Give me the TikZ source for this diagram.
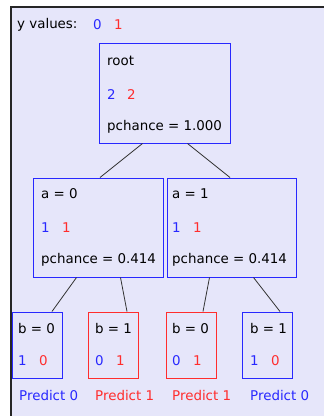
\documentclass[tikz,border=0pt]{standalone}
\usepackage{fontspec}
\setmainfont{DejaVu Sans}
\definecolor{panel}{RGB}{230,230,250}
\definecolor{yblue}{RGB}{40,40,255}
\definecolor{yred}{RGB}{255,45,45}
\begin{document}
\begin{tikzpicture}[x=1pt, y=-1pt,
  font=\fontsize{13.4}{15}\selectfont,
  box/.style={shape=rectangle, draw, line width=1pt, inner sep=0pt},
  txt/.style={anchor=west, inner sep=0pt},
  link/.style={draw=black!80, line width=0.8pt}]
\useasboundingbox (0,0) rectangle (324,416);
\fill[panel] (11,7) rectangle (324,416);
\draw[black!85, line width=1.5pt] (11,416) |- (324,7);
\node[txt] (yv) at (17,25) {y values:};
\node[txt, text=yblue] (y0) at (93,25) {0};
\node[txt, text=yred] (y1) at (114,25) {1};
% root
\node[box, draw=yblue, minimum width=131pt, minimum height=100pt] (R) at (164.5,93) {};
\node[txt] (Rt) at (107,61) {root};
\node[txt, text=yblue] (Rb) at (107,95) {2};
\node[txt, text=yred] (Rr) at (127,95) {2};
\node[txt] (Rp) at (107,127) {pchance = 1.000};
% a = 0 / a = 1
\node[box, draw=yblue, minimum width=130pt, minimum height=99pt] (A0) at (98,227.5) {};
\node[txt] (A0t) at (41,194) {a = 0};
\node[txt, text=yblue] (A0b) at (41,228) {1};
\node[txt, text=yred] (A0r) at (62,228) {1};
\node[txt] (A0p) at (41,260) {pchance = 0.414};
\node[box, draw=yblue, minimum width=129pt, minimum height=99pt] (A1) at (231.5,227.5) {};
\node[txt] (A1t) at (172,194) {a = 1};
\node[txt, text=yblue] (A1b) at (172,228) {1};
\node[txt, text=yred] (A1r) at (193,228) {1};
\node[txt] (A1p) at (172,260) {pchance = 0.414};
% leaves
\node[box, draw=yblue, minimum width=50pt, minimum height=66pt] (B1) at (37,345) {};
\node[txt] (B1t) at (18,328) {b = 0};
\node[txt, text=yblue] (B1b) at (18,361) {1};
\node[txt, text=yred] (B1r) at (39,361) {0};
\node[txt, text=yblue] (B1p) at (19,395) {Predict 0};
\node[box, draw=yred, minimum width=50pt, minimum height=66pt] (B2) at (113,345) {};
\node[txt] (B2t) at (95,328) {b = 1};
\node[txt, text=yblue] (B2b) at (95,361) {0};
\node[txt, text=yred] (B2r) at (116,361) {1};
\node[txt, text=yred] (B2p) at (95,395) {Predict 1};
\node[box, draw=yred, minimum width=50pt, minimum height=66pt] (B3) at (191,345) {};
\node[txt] (B3t) at (172,328) {b = 0};
\node[txt, text=yblue] (B3b) at (172,361) {0};
\node[txt, text=yred] (B3r) at (193,361) {1};
\node[txt, text=yred] (B3p) at (172,395) {Predict 1};
\node[box, draw=yblue, minimum width=50pt, minimum height=66pt] (B4) at (267,345) {};
\node[txt] (B4t) at (250,328) {b = 1};
\node[txt, text=yblue] (B4b) at (250,361) {1};
\node[txt, text=yred] (B4r) at (271,361) {0};
\node[txt, text=yblue] (B4p) at (250,395) {Predict 0};
\path[link] ([xshift=44pt]R.south west) -- ([xshift=2pt]A0.north);
\path[link] ([xshift=-43pt]R.south east) -- ([xshift=-1.5pt]A1.north);
\path[link] ([xshift=44pt]A0.south west) -- ([xshift=15pt]B1.north);
\path[link] ([xshift=-43pt]A0.south east) -- ([xshift=14pt]B2.north);
\path[link] ([xshift=43pt]A1.south west) -- ([xshift=12pt]B3.north);
\path[link] ([xshift=-43pt]A1.south east) -- ([xshift=13pt]B4.north);
\end{tikzpicture}
\end{document}
